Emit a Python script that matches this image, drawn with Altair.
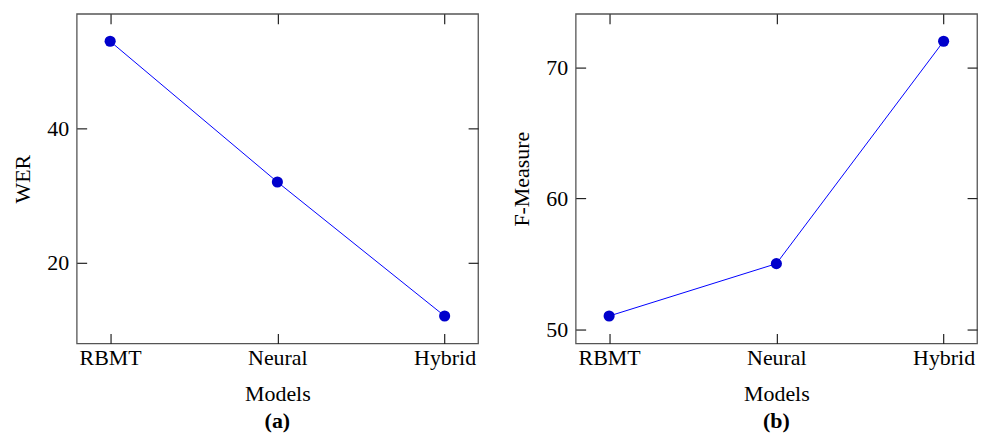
import altair as alt
import pandas as pd

models = ["RBMT", "Neural", "Hybrid"]
wer = [53, 32, 12]
fmeasure = [51, 55, 72]

FONT = "Liberation Serif"
FS = 22


def panel(values, ytitle, ydomain, yticks, label, title_pad):
    df = pd.DataFrame({"model": models, "v": values})
    xs = alt.Scale(type="point", padding=0.2)
    ys = alt.Scale(domain=ydomain, nice=False, zero=False)
    line = alt.Chart(df).mark_line(color="#0000ff", strokeWidth=1).encode(
        x=alt.X("model:N", sort=models, scale=xs, axis=None),
        y=alt.Y("v:Q", scale=ys, axis=None),
    )
    pts = alt.Chart(df).mark_circle(size=125, color="#0000cc", opacity=1).encode(
        x=alt.X("model:N", sort=models, scale=xs,
                axis=alt.Axis(orient="bottom", title="Models", offset=-10, tickSize=10,
                              domain=False, labelPadding=4, titlePadding=15,
                              labelAngle=0)),
        y=alt.Y("v:Q", scale=ys,
                axis=alt.Axis(orient="left", title=ytitle, values=yticks, offset=-10,
                              tickSize=10, domain=False, labelPadding=8,
                              titlePadding=title_pad, grid=False)),
    )
    mirror = alt.Chart(df).mark_circle(opacity=0).encode(
        x=alt.X("model:N", sort=models, scale=xs,
                axis=alt.Axis(orient="top", title=None, labels=False, offset=-10,
                              tickSize=10, domain=False)),
        y=alt.Y("v:Q", scale=ys,
                axis=alt.Axis(orient="right", title=None, labels=False, values=yticks,
                              offset=-10, tickSize=10, domain=False, grid=False)),
    )
    return alt.layer(line, pts, mirror).resolve_axis(
        x="independent", y="independent"
    ).properties(
        width=403, height=331,
        title=alt.TitleParams(label, orient="bottom", frame="group", anchor="middle",
                              font=FONT, fontSize=22, fontWeight="bold", offset=7),
    )


left = panel(wer, "WER", [7.9, 57.1], [20, 40], "(a)", 12)
right = panel(fmeasure, "F-Measure", [48.9, 74.1], [50, 60, 70], "(b)", 12)

chart = alt.hconcat(left, right, spacing=30).properties(
    padding={"left": 11, "top": 11, "right": 10, "bottom": 0},
    background="white",
).configure_view(
    stroke="#555555", strokeWidth=1.3
).configure_axis(
    labelFont=FONT, titleFont=FONT, labelFontSize=FS, titleFontSize=FS,
    titleFontWeight="normal", labelColor="#000000", titleColor="#000000",
    tickColor="#222222", tickWidth=1.2, grid=False
)

chart.save("out.html", embed_options={"renderer": "svg", "actions": False})
